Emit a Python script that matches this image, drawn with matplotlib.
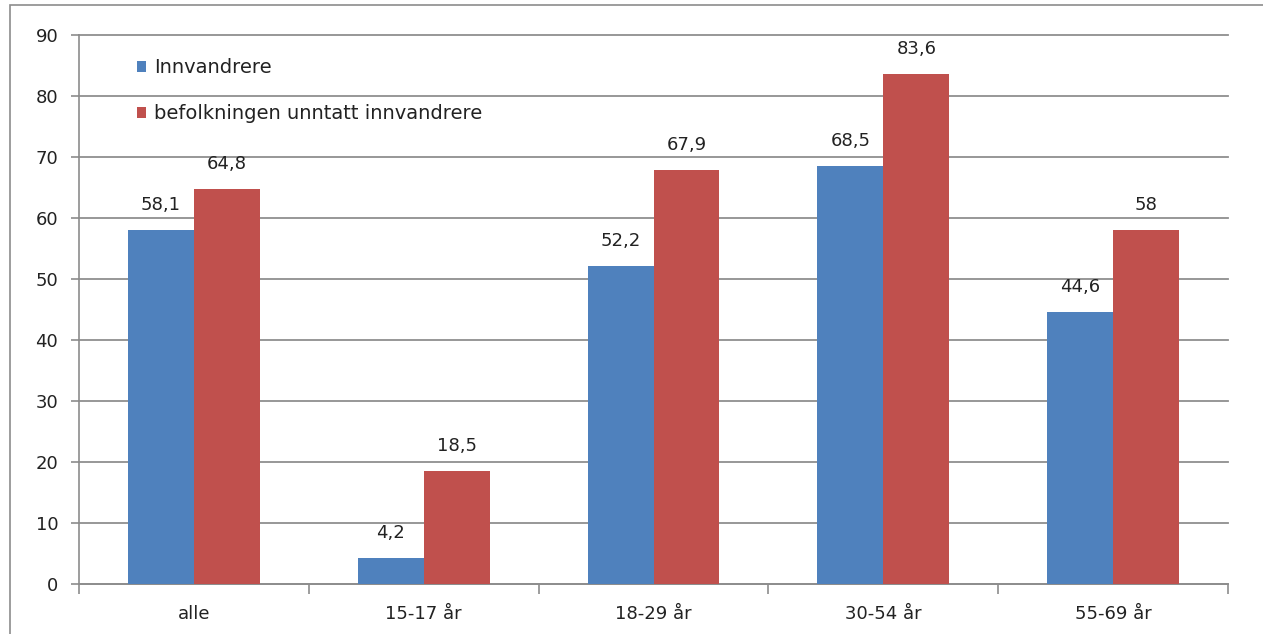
import numpy as np
import matplotlib
matplotlib.use('Agg')
import matplotlib.pyplot as plt
from matplotlib.patches import Rectangle

categories = ['alle', '15-17 år', '18-29 år', '30-54 år', '55-69 år']
innvandrere = [58.1, 4.2, 52.2, 68.5, 44.6]
befolkningen = [64.8, 18.5, 67.9, 83.6, 58.0]
series_names = ['Innvandrere', 'befolkningen unntatt innvandrere']

plt.rcParams['font.family'] = ['DejaVu Sans']

fig = plt.figure(figsize=(12.63, 6.34), dpi=100)
ax = fig.add_axes([79 / 1263, 1 - 584 / 634, (1228 - 79) / 1263, (584 - 35) / 634])

# outer chart border
fig.patches.append(Rectangle((10 / 1263, -0.1), 1.2, 1 - 5 / 634 + 0.1,
                             transform=fig.transFigure, fill=False,
                             edgecolor='#8c8c8c', linewidth=1.2))

x = np.arange(len(categories))
w = 0.287
b1 = ax.bar(x - w / 2, innvandrere, w, color='#4F81BD', label=series_names[0], zorder=3)
b2 = ax.bar(x + w / 2, befolkningen, w, color='#C0504D', label=series_names[1], zorder=3)

def fmt(v):
    s = f'{v:.1f}'.replace('.', ',')
    return s[:-2] if s.endswith(',0') else s

for bars, vals in [(b1, innvandrere), (b2, befolkningen)]:
    for rect, v in zip(bars, vals):
        ax.annotate(fmt(v), (rect.get_x() + rect.get_width() / 2, v),
                    xytext=(0, 11.5), textcoords='offset points',
                    ha='center', va='bottom', fontsize=13, color='#222222')

ax.set_xlim(-0.5, len(categories) - 0.5)
ax.set_ylim(0, 90)
ax.set_yticks(np.arange(0, 91, 10))
ax.set_xticks(x)
ax.set_xticklabels(categories)
ax.set_xticks(np.arange(-0.5, len(categories)), minor=True)
ax.tick_params(axis='x', which='major', length=0, pad=15, labelsize=13, labelcolor='#222222')
ax.tick_params(axis='x', which='minor', length=7, color='#8c8c8c', width=1.2)
ax.tick_params(axis='y', length=6, color='#8c8c8c', width=1.2, pad=9, labelsize=13,
               labelcolor='#222222')

ax.grid(axis='y', color='#8f8f8f', linewidth=1.3, zorder=0)
for gl in ax.get_ygridlines():
    gl.set_clip_on(False)
for s in ['top', 'right']:
    ax.spines[s].set_visible(False)
for s in ['left', 'bottom']:
    ax.spines[s].set_color('#8c8c8c')
    ax.spines[s].set_linewidth(1.2)

ax.legend(loc='upper left', bbox_to_anchor=(0.035, 0.99), frameon=False,
          fontsize=14, handlelength=0.5, handleheight=0.5, handletextpad=0.4,
          labelspacing=1.4, labelcolor='#222222')

fig.savefig('out.png', dpi=100, facecolor='white')
